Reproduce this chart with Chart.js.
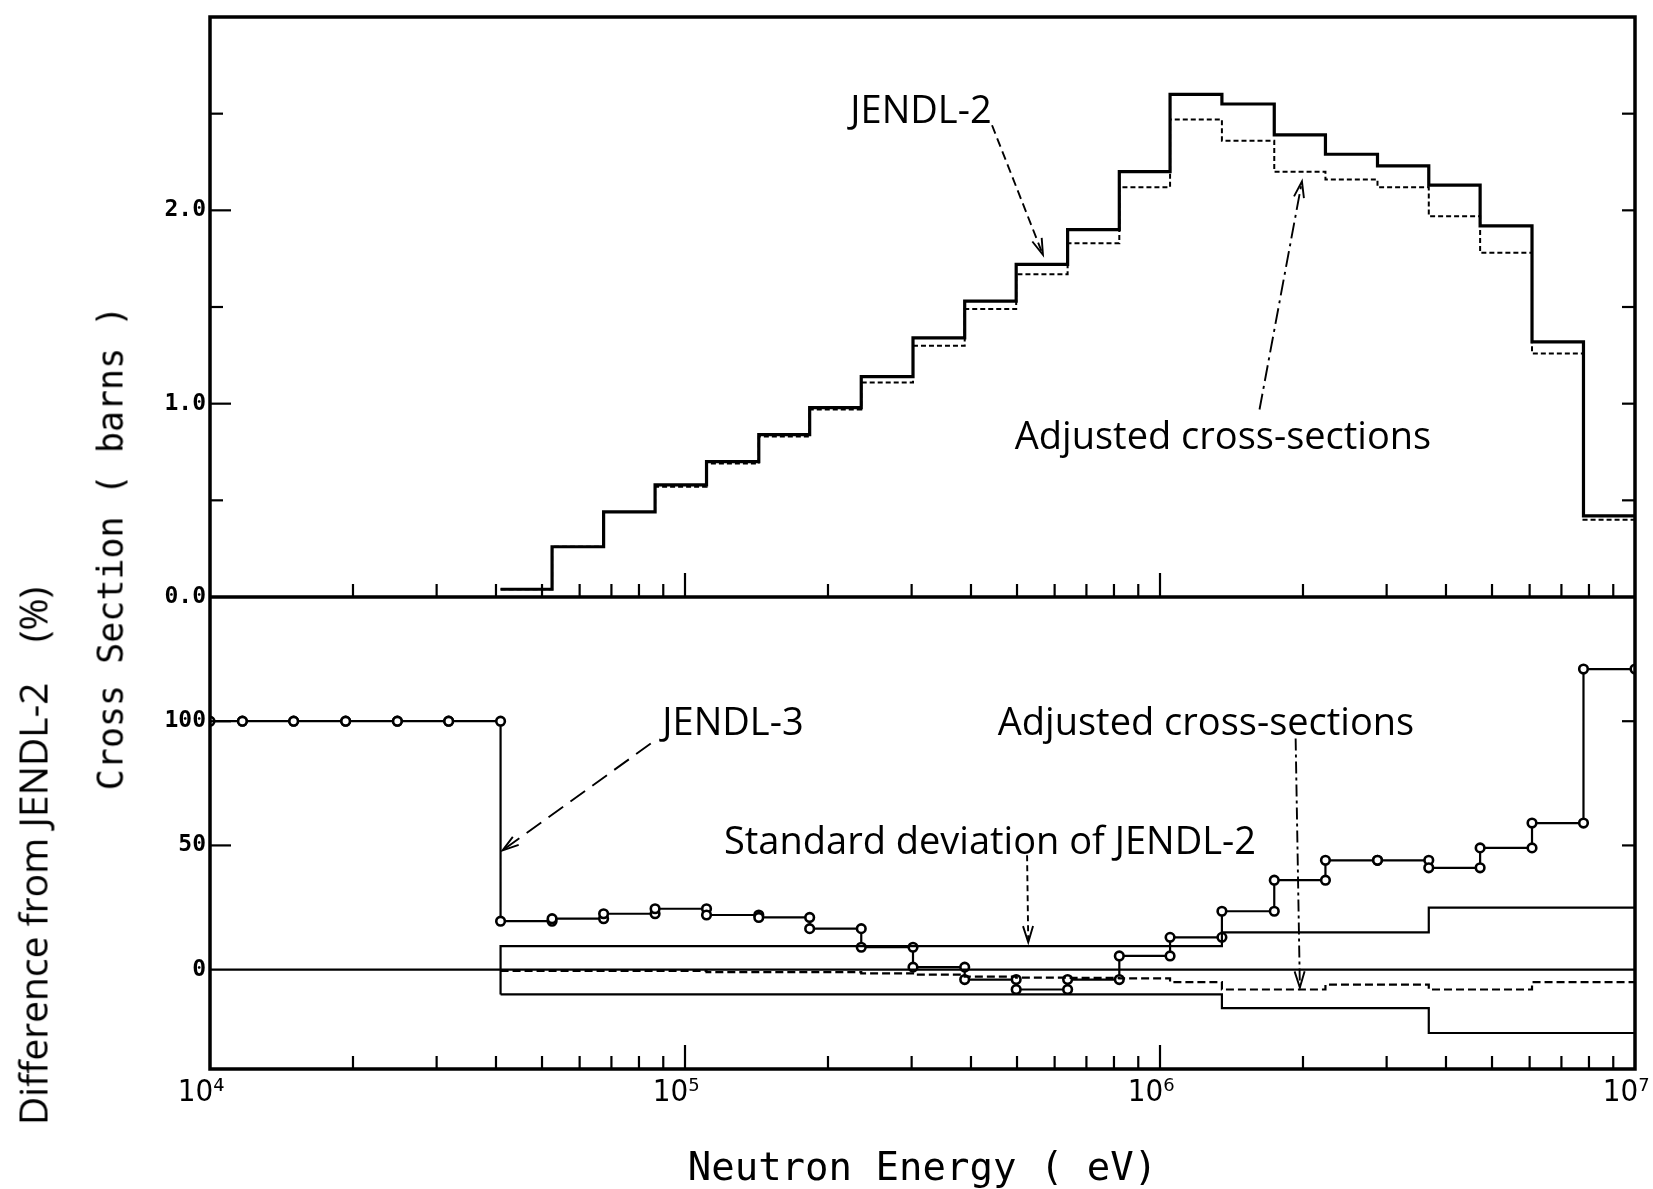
<!DOCTYPE html>
<html>
<head>
<meta charset="utf-8">
<script src="https://cdn.jsdelivr.net/npm/chart.js@4.4.1/dist/chart.umd.min.js"></script>
<style>
html, body { margin: 0; padding: 0; background: #fff; }
#wrap { position: relative; width: 1653px; height: 1189px; overflow: hidden; background: #fff; }
#c { position: absolute; left: 0; top: 0; }
.lbl { position: absolute; white-space: pre; color: #000; line-height: 1; transform: translate(-50%, -50%); }
.ann { font-family: "Open Sans", "Noto Sans", sans-serif; font-size: 38px; }
.rot { transform: translate(-50%, -50%) rotate(-90deg); }
</style>
</head>
<body>
<div id="wrap">
  <canvas id="c" width="1653" height="1189"></canvas>
  <div class="lbl rot" style="left:111px; top:548px; font-family:'DejaVu Sans Mono', monospace; font-size:35px;">Cross Section ( barns )</div>
  <div class="lbl rot ann" style="left:32px; top:856px; font-size:39px;">Difference from JENDL-2    (%)</div>
  <div class="lbl ann" style="left:921px; top:108px;">JENDL-2</div>
  <div class="lbl ann" style="left:1223px; top:434px;">Adjusted cross-sections</div>
  <div class="lbl ann" style="left:733px; top:720px;">JENDL-3</div>
  <div class="lbl ann" style="left:1206px; top:720px;">Adjusted cross-sections</div>
  <div class="lbl ann" style="left:990px; top:839px;">Standard deviation of JENDL-2</div>
</div>
<script>
// ---------------- DATA ----------------
// Energy group boundaries (eV), 22 groups from ~40 keV to 10 MeV
const binEdges = [4.09e4, 5.25e4, 6.74e4, 8.65e4, 1.11e5, 1.43e5, 1.83e5, 2.35e5, 3.02e5, 3.88e5, 4.98e5,
                  6.39e5, 8.21e5, 1.05e6, 1.35e6, 1.74e6, 2.23e6, 2.87e6, 3.68e6, 4.72e6, 6.07e6, 7.79e6, 1.0e7];
// Upper panel: cross section (barns)
const jendl2XS   = [0.04, 0.26, 0.44, 0.58, 0.70, 0.84, 0.98, 1.14, 1.34, 1.53, 1.72, 1.90, 2.20, 2.60, 2.55, 2.39, 2.29, 2.23, 2.13, 1.92, 1.32, 0.42];
const adjustedXS = [0.04, 0.26, 0.44, 0.57, 0.69, 0.83, 0.97, 1.11, 1.30, 1.49, 1.67, 1.83, 2.12, 2.47, 2.36, 2.20, 2.16, 2.12, 1.97, 1.78, 1.26, 0.40];
// Lower panel: difference from JENDL-2 (%)
const lowEdges      = [1.0e4, 1.17e4, 1.50e4, 1.93e4, 2.48e4, 3.18e4];
const jendl3LowDiff = [100, 100, 100, 100, 100, 100];
const jendl3Diff    = [19.5, 20.5, 22.5, 24.5, 22, 21, 16.5, 9, 1, -4, -8, -4, 5.5, 13, 23.5, 36, 44, 44, 41, 49, 59, 121];
const adjustedDiff  = [-0.5, -0.5, -0.5, -0.5, -1, -1, -1, -1.5, -2, -2.8, -3.2, -3.3, -3.5, -5, -8, -8, -6, -6, -8, -8, -5, -5];
const stdUpper = [9.5, 9.5, 9.5, 9.5, 9.5, 9.5, 9.5, 9.5, 9.5, 9.5, 9.5, 9.5, 9.5, 9.5, 15, 15, 15, 15, 25, 25, 25, 25];
const stdLower = [-10, -10, -10, -10, -10, -10, -10, -10, -10, -10, -10, -10, -10, -10, -15.5, -15.5, -15.5, -15.5, -25.5, -25.5, -25.5, -25.5];
const zeroLineX = [1e4, 1e7];
// Axes / ticks
const xRange = [1e4, 1e7];
const xTickValues = [1e4, 1e5, 1e6, 1e7];
const xTickLabels = ['10⁴', '10⁵', '10⁶', '10⁷'];
const xMinorTicks = [2e4, 3e4, 4e4, 5e4, 6e4, 7e4, 8e4, 9e4,
                     2e5, 3e5, 4e5, 5e5, 6e5, 7e5, 8e5, 9e5,
                     2e6, 3e6, 4e6, 5e6, 6e6, 7e6, 8e6, 9e6];
const xInnerMajorTicks = [1e5, 1e6];
const csRange = [0, 3];
const csTickValues = [0, 1, 2];
const csTickLabels = ['0.0', '1.0', '2.0'];
const csMinorTicks = [0.5, 1.5, 2.5];
const diffRange = [-40, 150];
const diffTickValues = [0, 50, 100];
const diffTickLabels = ['0', '50', '100'];
const diffMarkTicks = [50, 100];
// Annotation arrows (data coordinates)
const arrowNotes = [
  { yAxis: 'yCS',   from: [4.43e5, 2.44], to: [5.67e5, 1.77], dash: [9, 5] },
  { yAxis: 'yCS',   from: [1.62e6, 0.97], to: [1.99e6, 2.15], dash: [16, 5, 3, 5] },
  { yAxis: 'yDiff', from: [8.47e4, 91],   to: [4.13e4, 48],   dash: [18, 9] },
  { yAxis: 'yDiff', from: [1.93e6, 93],   to: [1.97e6, -7.2], dash: [12, 4, 3, 4] },
  { yAxis: 'yDiff', from: [5.25e5, 46],   to: [5.28e5, 11],   dash: [6, 4] }
];

// ---------------- build point tables ----------------
function stepPoints(edges, vals) {
  const pts = vals.map((v, i) => ({ x: edges[i], y: v }));
  pts.push({ x: edges[edges.length - 1], y: vals[vals.length - 1] });
  return pts;
}
function markerPoints(edges, vals) {
  const pts = [];
  vals.forEach((v, i) => { pts.push({ x: edges[i], y: v }); pts.push({ x: edges[i + 1], y: v }); });
  return pts;
}
const j3Edges = lowEdges.concat(binEdges);
const j3Vals = jendl3LowDiff.concat(jendl3Diff);
const stdUpperPts = [{ x: binEdges[0], y: stdLower[0] }].concat(stepPoints(binEdges, stdUpper));

const BLACK = '#000';
const base = { xAxisID: 'x', borderColor: BLACK, pointRadius: 0, fill: false, tension: 0 };

const datasets = [
  Object.assign({}, base, { label: 'JENDL-2', yAxisID: 'yCS', data: stepPoints(binEdges, jendl2XS), stepped: 'before', borderWidth: 3.2 }),
  Object.assign({}, base, { label: 'Adjusted cross-sections', yAxisID: 'yCS', data: stepPoints(binEdges, adjustedXS), stepped: 'before', borderWidth: 2, borderDash: [5, 3] }),
  Object.assign({}, base, { label: 'Zero', yAxisID: 'yDiff', data: zeroLineX.map(x => ({ x: x, y: 0 })), borderWidth: 2.2 }),
  Object.assign({}, base, { label: '+Std. dev. JENDL-2', yAxisID: 'yDiff', data: stdUpperPts, stepped: 'before', borderWidth: 2.2 }),
  Object.assign({}, base, { label: '-Std. dev. JENDL-2', yAxisID: 'yDiff', data: stepPoints(binEdges, stdLower), stepped: 'before', borderWidth: 2.2 }),
  Object.assign({}, base, { label: 'Adjusted (diff)', yAxisID: 'yDiff', data: stepPoints(binEdges, adjustedDiff), stepped: 'before', borderWidth: 2.2, borderDash: [8, 4] }),
  Object.assign({}, base, { label: 'JENDL-3', yAxisID: 'yDiff', data: markerPoints(j3Edges, j3Vals), borderWidth: 2.2,
    pointRadius: 4.3, pointBorderWidth: 2.6, pointBackgroundColor: '#fff', pointBorderColor: BLACK, pointStyle: 'circle' })
];

// ---------------- plugins ----------------
function seg(ctx, x1, y1, x2, y2) { ctx.beginPath(); ctx.moveTo(x1, y1); ctx.lineTo(x2, y2); ctx.stroke(); }

const framePlugin = {
  id: 'frameTicks',
  afterDatasetsDraw(chart) {
    const { ctx, chartArea: a, scales } = chart;
    const x = scales.x, yT = scales.yCS, yB = scales.yDiff;
    ctx.save();
    ctx.strokeStyle = BLACK;
    ctx.setLineDash([]);
    ctx.lineWidth = 3.5;
    ctx.strokeRect(a.left, a.top, a.right - a.left, a.bottom - a.top);
    const yMid = yT.getPixelForValue(csRange[0]);
    seg(ctx, a.left, yMid, a.right, yMid);
    ctx.lineWidth = 2.2;
    xMinorTicks.forEach(v => {
      const px = x.getPixelForValue(v);
      seg(ctx, px, yMid, px, yMid - 13);
      seg(ctx, px, a.bottom, px, a.bottom - 13);
    });
    xInnerMajorTicks.forEach(v => {
      const px = x.getPixelForValue(v);
      seg(ctx, px, yMid, px, yMid - 24);
      seg(ctx, px, a.bottom, px, a.bottom - 24);
    });
    csMinorTicks.forEach(v => {
      const py = yT.getPixelForValue(v);
      seg(ctx, a.left, py, a.left + 13, py);
      seg(ctx, a.right, py, a.right - 13, py);
    });
    csTickValues.slice(1).forEach(v => {
      const py = yT.getPixelForValue(v);
      seg(ctx, a.left, py, a.left + 21, py);
      seg(ctx, a.right, py, a.right - 13, py);
    });
    diffMarkTicks.forEach(v => {
      const py = yB.getPixelForValue(v);
      seg(ctx, a.left, py, a.left + 21, py);
      seg(ctx, a.right, py, a.right - 13, py);
    });
    ctx.restore();
  }
};

const arrowPlugin = {
  id: 'arrows',
  afterDatasetsDraw(chart) {
    const { ctx, scales } = chart;
    ctx.save();
    ctx.strokeStyle = BLACK;
    ctx.lineWidth = 1.9;
    arrowNotes.forEach(n => {
      const ys = scales[n.yAxis];
      const x1 = scales.x.getPixelForValue(n.from[0]), y1 = ys.getPixelForValue(n.from[1]);
      const x2 = scales.x.getPixelForValue(n.to[0]),   y2 = ys.getPixelForValue(n.to[1]);
      ctx.setLineDash(n.dash);
      seg(ctx, x1, y1, x2, y2);
      ctx.setLineDash([]);
      const ang = Math.atan2(y2 - y1, x2 - x1);
      const L = 17, w = 0.3;
      ctx.beginPath();
      ctx.moveTo(x2 - L * Math.cos(ang - w), y2 - L * Math.sin(ang - w));
      ctx.lineTo(x2, y2);
      ctx.lineTo(x2 - L * Math.cos(ang + w), y2 - L * Math.sin(ang + w));
      ctx.stroke();
    });
    ctx.restore();
  }
};

// ---------------- chart ----------------
const monoBold = { family: "'DejaVu Sans Mono', 'Liberation Mono', monospace", size: 23, weight: 'bold' };
function fixedY(s) { s.width = 60; s.paddingTop = 0; s.paddingBottom = 0; }

new Chart(document.getElementById('c').getContext('2d'), {
  type: 'line',
  data: { datasets: datasets },
  options: {
    responsive: false,
    animation: false,
    devicePixelRatio: 1,
    layout: { padding: { left: 150, right: 18, top: 17, bottom: 0 } },
    plugins: { legend: { display: false }, tooltip: { enabled: false }, title: { display: false } },
    scales: {
      x: {
        type: 'logarithmic', position: 'bottom', min: xRange[0], max: xRange[1],
        grid: { display: false, drawTicks: false }, border: { display: false },
        afterBuildTicks: s => { s.ticks = xTickValues.map(v => ({ value: v })); },
        afterFit: s => { s.height = 120; s.paddingLeft = 0; s.paddingRight = 0; },
        ticks: {
          autoSkip: false, maxRotation: 0, minRotation: 0, padding: 5, labelOffset: -9, color: BLACK,
          font: { family: "'Liberation Sans Narrow', 'DejaVu Sans Condensed', 'DejaVu Sans Mono', monospace", size: 31 },
          callback: (v, i) => xTickLabels[i]
        },
        title: {
          display: true, text: 'Neutron Energy ( eV)', color: BLACK,
          font: { family: "'DejaVu Sans Mono', 'Liberation Mono', monospace", size: 39, lineHeight: 1.0 },
          padding: { top: 0, bottom: 0 }
        }
      },
      yDiff: {
        type: 'linear', position: 'left', stack: 'panels', stackWeight: 472,
        min: diffRange[0], max: diffRange[1],
        grid: { display: false, drawTicks: false }, border: { display: false },
        afterBuildTicks: s => { s.ticks = diffTickValues.map(v => ({ value: v })); },
        afterFit: fixedY,
        ticks: { autoSkip: false, padding: 4, color: BLACK, font: monoBold, callback: (v, i) => diffTickLabels[i] }
      },
      yCS: {
        type: 'linear', position: 'left', stack: 'panels', stackWeight: 580,
        min: csRange[0], max: csRange[1],
        grid: { display: false, drawTicks: false }, border: { display: false },
        afterBuildTicks: s => { s.ticks = csTickValues.map(v => ({ value: v })); },
        afterFit: fixedY,
        ticks: { autoSkip: false, padding: 4, color: BLACK, font: monoBold, callback: (v, i) => csTickLabels[i] }
      }
    }
  },
  plugins: [framePlugin, arrowPlugin]
});
</script>
</body>
</html>
